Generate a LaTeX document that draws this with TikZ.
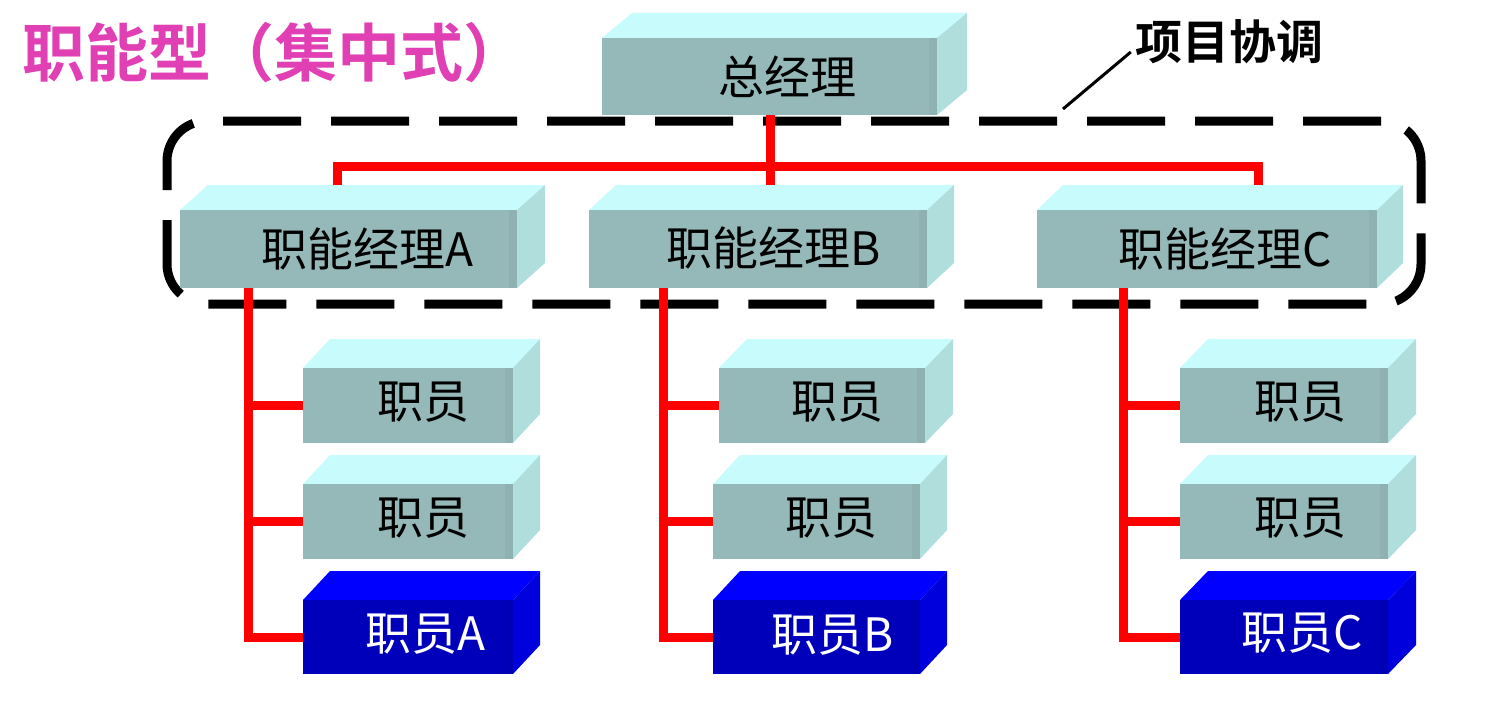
\documentclass[tikz,border=0pt]{standalone}
\usepackage{fontspec}
\newfontfamily\cjk{Noto Sans CJK SC}[BoldFont=* Bold]
\usetikzlibrary{fit}
\definecolor{greyF}{HTML}{95B9B8}
\definecolor{greyT}{HTML}{C8FCFC}
\definecolor{greyS}{HTML}{B0DEDD}
\definecolor{blueF}{HTML}{0000BB}
\definecolor{blueT}{HTML}{0000FF}
\definecolor{blueS}{HTML}{0000DD}
\definecolor{pinkc}{HTML}{E13FB4}
\definecolor{redc}{HTML}{FF0000}
\newcommand\cubebox[8]{%
  \fill[#8T] (#2,#3) -- (#2+#6,#3-#7) -- (#4+#6,#3-#7) -- (#4,#3) -- cycle;
  \fill[#8S] (#4,#3) -- (#4+#6,#3-#7) -- (#4+#6,#5-#7) -- (#4,#5) -- cycle;
  \fill[#8F] (#2,#3) rectangle (#4,#5);
  \fill[#8F!96!black] (#4-8,#3) rectangle (#4,#5);
  \coordinate (#1nw) at (#2,#3);
  \coordinate (#1se) at (#4,#5);
  \node[fit=(#1nw)(#1se), inner sep=0pt] (#1) {};
}
\tikzset{
  txt/.style={font=\cjk\fontsize{46}{50}\selectfont, inner sep=0pt, text=black},
  wtxt/.style={txt, text=white},
  redline/.style={draw=redc, line width=9pt},
  titlestyle/.style={font=\cjk\bfseries\fontsize{63}{66}\selectfont, inner sep=0pt, text=pinkc},
  lblstyle/.style={font=\cjk\bfseries\fontsize{47}{50}\selectfont, inner sep=0pt, text=black},
}
\begin{document}
\begin{tikzpicture}[x=1pt,y=-1pt]
\useasboundingbox (0,0) rectangle (1495,717);
\fill[white] (0,0) rectangle (1495,717);

% title
\node[titlestyle, anchor=west] (ttl) at (22,53) {职能型（集中式）};

% dashed coordination box
\coordinate (g1) at (167,121);
\coordinate (g2) at (1421,304);
\node[fit=(g1)(g2), inner sep=0pt, draw=black, line width=9pt, dash pattern=on 78pt off 30pt, rounded corners=40pt] (grp) {};

% boxes
\cubebox{gm}{602}{38}{937}{115}{30}{25}{grey}
\cubebox{mA}{180}{210}{517}{288}{28}{25}{grey}
\cubebox{mB}{589}{210}{927}{288}{27}{25}{grey}
\cubebox{mC}{1037}{210}{1377}{288}{26}{25}{grey}

\cubebox{sA1}{303}{368}{513}{443}{27}{29}{grey}
\cubebox{sA2}{303}{484}{513}{559}{27}{29}{grey}
\cubebox{sA3}{303}{600}{513}{674}{27}{29}{blue}
\cubebox{sB1}{719}{368}{925}{443}{28}{29}{grey}
\cubebox{sB2}{713}{484}{920}{559}{27}{29}{grey}
\cubebox{sB3}{713}{600}{920}{674}{27}{29}{blue}
\cubebox{sC1}{1180}{368}{1388}{443}{28}{29}{grey}
\cubebox{sC2}{1180}{484}{1388}{559}{28}{29}{grey}
\cubebox{sC3}{1180}{600}{1388}{674}{28}{29}{blue}

% connectors: top
\coordinate (bar) at (0,166);
\coordinate (tA) at (337,185);
\coordinate (tB) at (770,185);
\coordinate (tC) at (1258,185);
\draw[redline] (gm.south -| tB) -- (tB);
\draw[redline] (tA) -- (tA |- bar) -| (tC);

% connectors: columns
\coordinate (jA) at (248,288);
\coordinate (jB) at (663,288);
\coordinate (jC) at (1123,288);
\draw[redline] (jA) -- (jA |- sA3.west) -- (sA3.west);
\draw[redline] (jA |- sA1.west) -- (sA1.west);
\draw[redline] (jA |- sA2.west) -- (sA2.west);
\draw[redline] (jB) -- (jB |- sB3.west) -- (sB3.west);
\draw[redline] (jB |- sB1.west) -- (sB1.west);
\draw[redline] (jB |- sB2.west) -- (sB2.west);
\draw[redline] (jC) -- (jC |- sC3.west) -- (sC3.west);
\draw[redline] (jC |- sC1.west) -- (sC1.west);
\draw[redline] (jC |- sC2.west) -- (sC2.west);

% texts
\node[txt] (tgm) at (787,77) {总经理};
\node[txt] (tmA) at (367,249) {职能经理A};
\node[txt] (tmB) at (774,248) {职能经理B};
\node[txt] (tmC) at (1225,249) {职能经理C};
\node[txt] (tsA1) at (423,402) {职员};
\node[txt] (tsA2) at (423,518) {职员};
\node[wtxt] (tsA3) at (425,634) {职员A};
\node[txt] (tsB1) at (837,402) {职员};
\node[txt] (tsB2) at (831,518) {职员};
\node[wtxt] (tsB3) at (833,635) {职员B};
\node[txt] (tsC1) at (1300,402) {职员};
\node[txt] (tsC2) at (1300,518) {职员};
\node[wtxt] (tsC3) at (1302,633) {职员C};

% label
\node[lblstyle] (lbl) at (1229,42) {项目协调};
\coordinate (lend) at (1063,109);
\draw[black, line width=3pt] (lbl.west) ++(-4,10) -- (lend);
\end{tikzpicture}
\end{document}
